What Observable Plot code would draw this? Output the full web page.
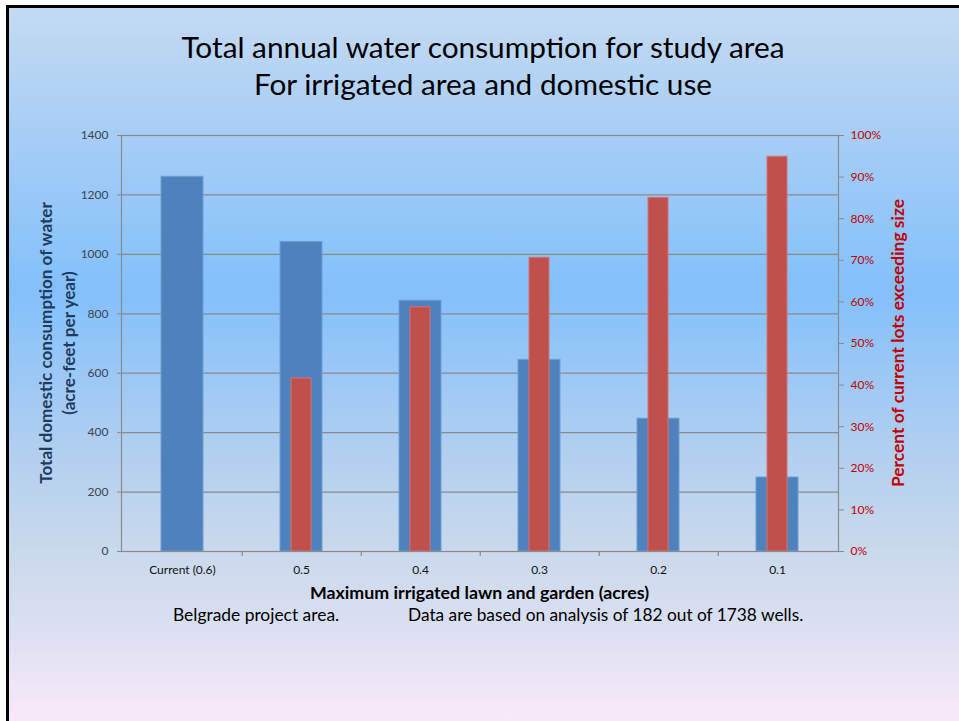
<!DOCTYPE html>
<html>
<head>
<meta charset="utf-8">
<script src="https://cdn.jsdelivr.net/npm/d3@7"></script>
<script src="https://cdn.jsdelivr.net/npm/@observablehq/plot@0.6"></script>
<style>
  html, body { margin: 0; padding: 0; background: #ffffff; overflow: hidden; }
  body { width: 959px; height: 721px; position: relative; font-family: Lato, "Noto Sans", sans-serif; }
  #slide {
    position: absolute; left: 6px; top: 5px; width: 950px; height: 716px;
    border-left: 3px solid #000; border-top: 3px solid #000;
    background: linear-gradient(to bottom, #c4daf2 0%, #a8cef6 17%, #83c0fc 39.5%, #b2cff0 62%, #cad9ec 76%, #dadff2 86%, #fbe9f8 100%);
  }
  .abs { position: absolute; white-space: nowrap; }
  #title { left: 0; width: 966px; top: 28px; text-align: center; font-size: 29.8px; line-height: 37px; color: #000; }
  #chart { position: absolute; left: 0; top: 100px; }
  .ylab { transform-origin: center center; text-align: center; font-weight: bold; }
  #ylabL { left: 56.5px; top: 343px; transform: translate(-50%, -50%) rotate(-90deg); color: #1f3b5e; font-size: 17.1px; line-height: 23px; }
  #ylabR { left: 897px; top: 343px; transform: translate(-50%, -50%) rotate(-90deg); color: #c00000; font-size: 17.4px; }
  #xlab { left: 0; width: 959px; top: 581px; text-align: center; font-weight: bold; font-size: 17.8px; color: #000; }
  #cap1 { left: 173px; top: 604px; font-size: 17.4px; color: #000; }
  #cap2 { left: 408px; top: 604px; font-size: 17.3px; color: #000; }
</style>
</head>
<body>
<div id="slide"></div>
<div id="title" class="abs">Total annual water consumption for study area<br>For irrigated area and domestic use</div>
<div id="chart"></div>
<div id="ylabL" class="abs ylab">Total domestic consumption of water<br>(acre-feet per year)</div>
<div id="ylabR" class="abs ylab">Percent of current lots exceeding size</div>
<div id="xlab" class="abs">Maximum irrigated lawn and garden (acres)</div>
<div id="cap1" class="abs">Belgrade project area.</div>
<div id="cap2" class="abs">Data are based on analysis of 182 out of 1738 wells.</div>
<script>
// ---- data ----
const categories = ["Current (0.6)", "0.5", "0.4", "0.3", "0.2", "0.1"];
const consumption = [1261, 1042, 844, 645, 447, 249];          // acre-feet per year (left axis)
const percentLots = [null, 41.6, 58.7, 70.6, 85.0, 94.9];      // % of current lots exceeding size (right axis)
const leftTicks = [0, 200, 400, 600, 800, 1000, 1200, 1400];
const pctTicks = [0, 10, 20, 30, 40, 50, 60, 70, 80, 90, 100];

// ---- build ----
const leftMax = 1400;
const pctToLeft = p => p * leftMax / 100;

const blueRows = categories.map((c, i) => ({cat: c, value: consumption[i]}));
const redRows = categories.map((c, i) => ({cat: c, value: percentLots[i]})).filter(d => d.value != null);

const W = 959, H = 530, mL = 121, mR = 121, mT = 35, mB = 79;
const step = (W - mL - mR) / categories.length;

const chart = Plot.plot({
  width: W, height: H,
  marginLeft: mL, marginRight: mR, marginTop: mT, marginBottom: mB,
  style: {background: "transparent", fontFamily: "Lato, 'Noto Sans', sans-serif", overflow: "visible"},
  x: {domain: categories, paddingInner: 0.649, paddingOuter: 0.3245, axis: null},
  y: {domain: [0, leftMax], axis: null},
  marks: [
    Plot.gridY(leftTicks, {stroke: "#8a8a8a", strokeOpacity: 1, strokeWidth: 1.2}),
    Plot.barY(blueRows, {x: "cat", y: "value", fill: "#4f81bd", stroke: "#6d9fd6", strokeWidth: 1}),
    Plot.barY(redRows, {x: "cat", y: d => pctToLeft(d.value), fill: "#c0504d", stroke: "#d27572", strokeWidth: 1, insetLeft: 11, insetRight: 11}),
    Plot.frame({stroke: "#8a8a8a", strokeWidth: 1.2}),
    Plot.ruleX(categories.slice(0, -1), {x: d => d, y1: 0, y2: 0, dx: step / 2, insetBottom: -5, stroke: "#8a8a8a", strokeWidth: 1.2}),
    Plot.axisY(leftTicks, {anchor: "left", tickSize: 4, tickPadding: 9, fontSize: 12, color: "#3a4556", stroke: "#8a8a8a", tickFormat: d => String(d), label: null}),
    Plot.axisY(pctTicks.map(pctToLeft), {anchor: "right", tickSize: 5, tickPadding: 7, fontSize: 12, color: "#c00000", stroke: "#8a8a8a", tickFormat: d => Math.round(d * 100 / leftMax) + "%", label: null}),
    Plot.axisX({tickSize: 0, tickPadding: 14, fontSize: 12, color: "#111", label: null})
  ]
});
chart.querySelectorAll("g[aria-label='y-axis tick'] path, g[aria-label='y-axis tick'] line").forEach(n => n.setAttribute("stroke", "#8a8a8a"));
document.getElementById("chart").appendChild(chart);
</script>
</body>
</html>
